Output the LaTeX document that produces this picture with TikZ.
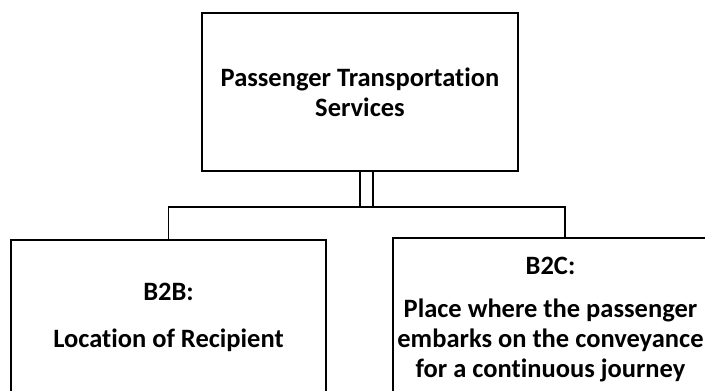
\documentclass[tikz,border=0pt]{standalone}
\usepackage{fontspec}
\setmainfont{Carlito}[Ligatures=NoCommon]
\begin{document}
\begin{tikzpicture}[x=1pt,y=-1pt,line width=1.4pt,
	box/.style={rectangle, draw, inner sep=0pt, align=center, font=\bfseries\fontsize{26.5}{30}\selectfont}]
	\clip (0,0) rectangle (705,391);
	\node (PTS) at (360, 92)	[box, minimum width=316, minimum height=158]	{Passenger Transportation\\Services};
	\node (B2B) at (168.5, 317)	[box, minimum width=315, minimum height=154]	{B2B:\\[17pt]Location of Recipient};
	\node (B2C) at (550.5, 320)	[box, minimum width=315, minimum height=164]	{B2C:\\[13pt]Place where the passenger\\embarks on the conveyance\\for a continuous journey};
	\coordinate (J) at (366.5, 207);
	\coordinate (R) at (565, 238);
	\draw[double, double distance=11.6pt] (J |- PTS.south) -- (J);
	\draw (B2B.north) |- (J) -| (R);
\end{tikzpicture}
\end{document}
